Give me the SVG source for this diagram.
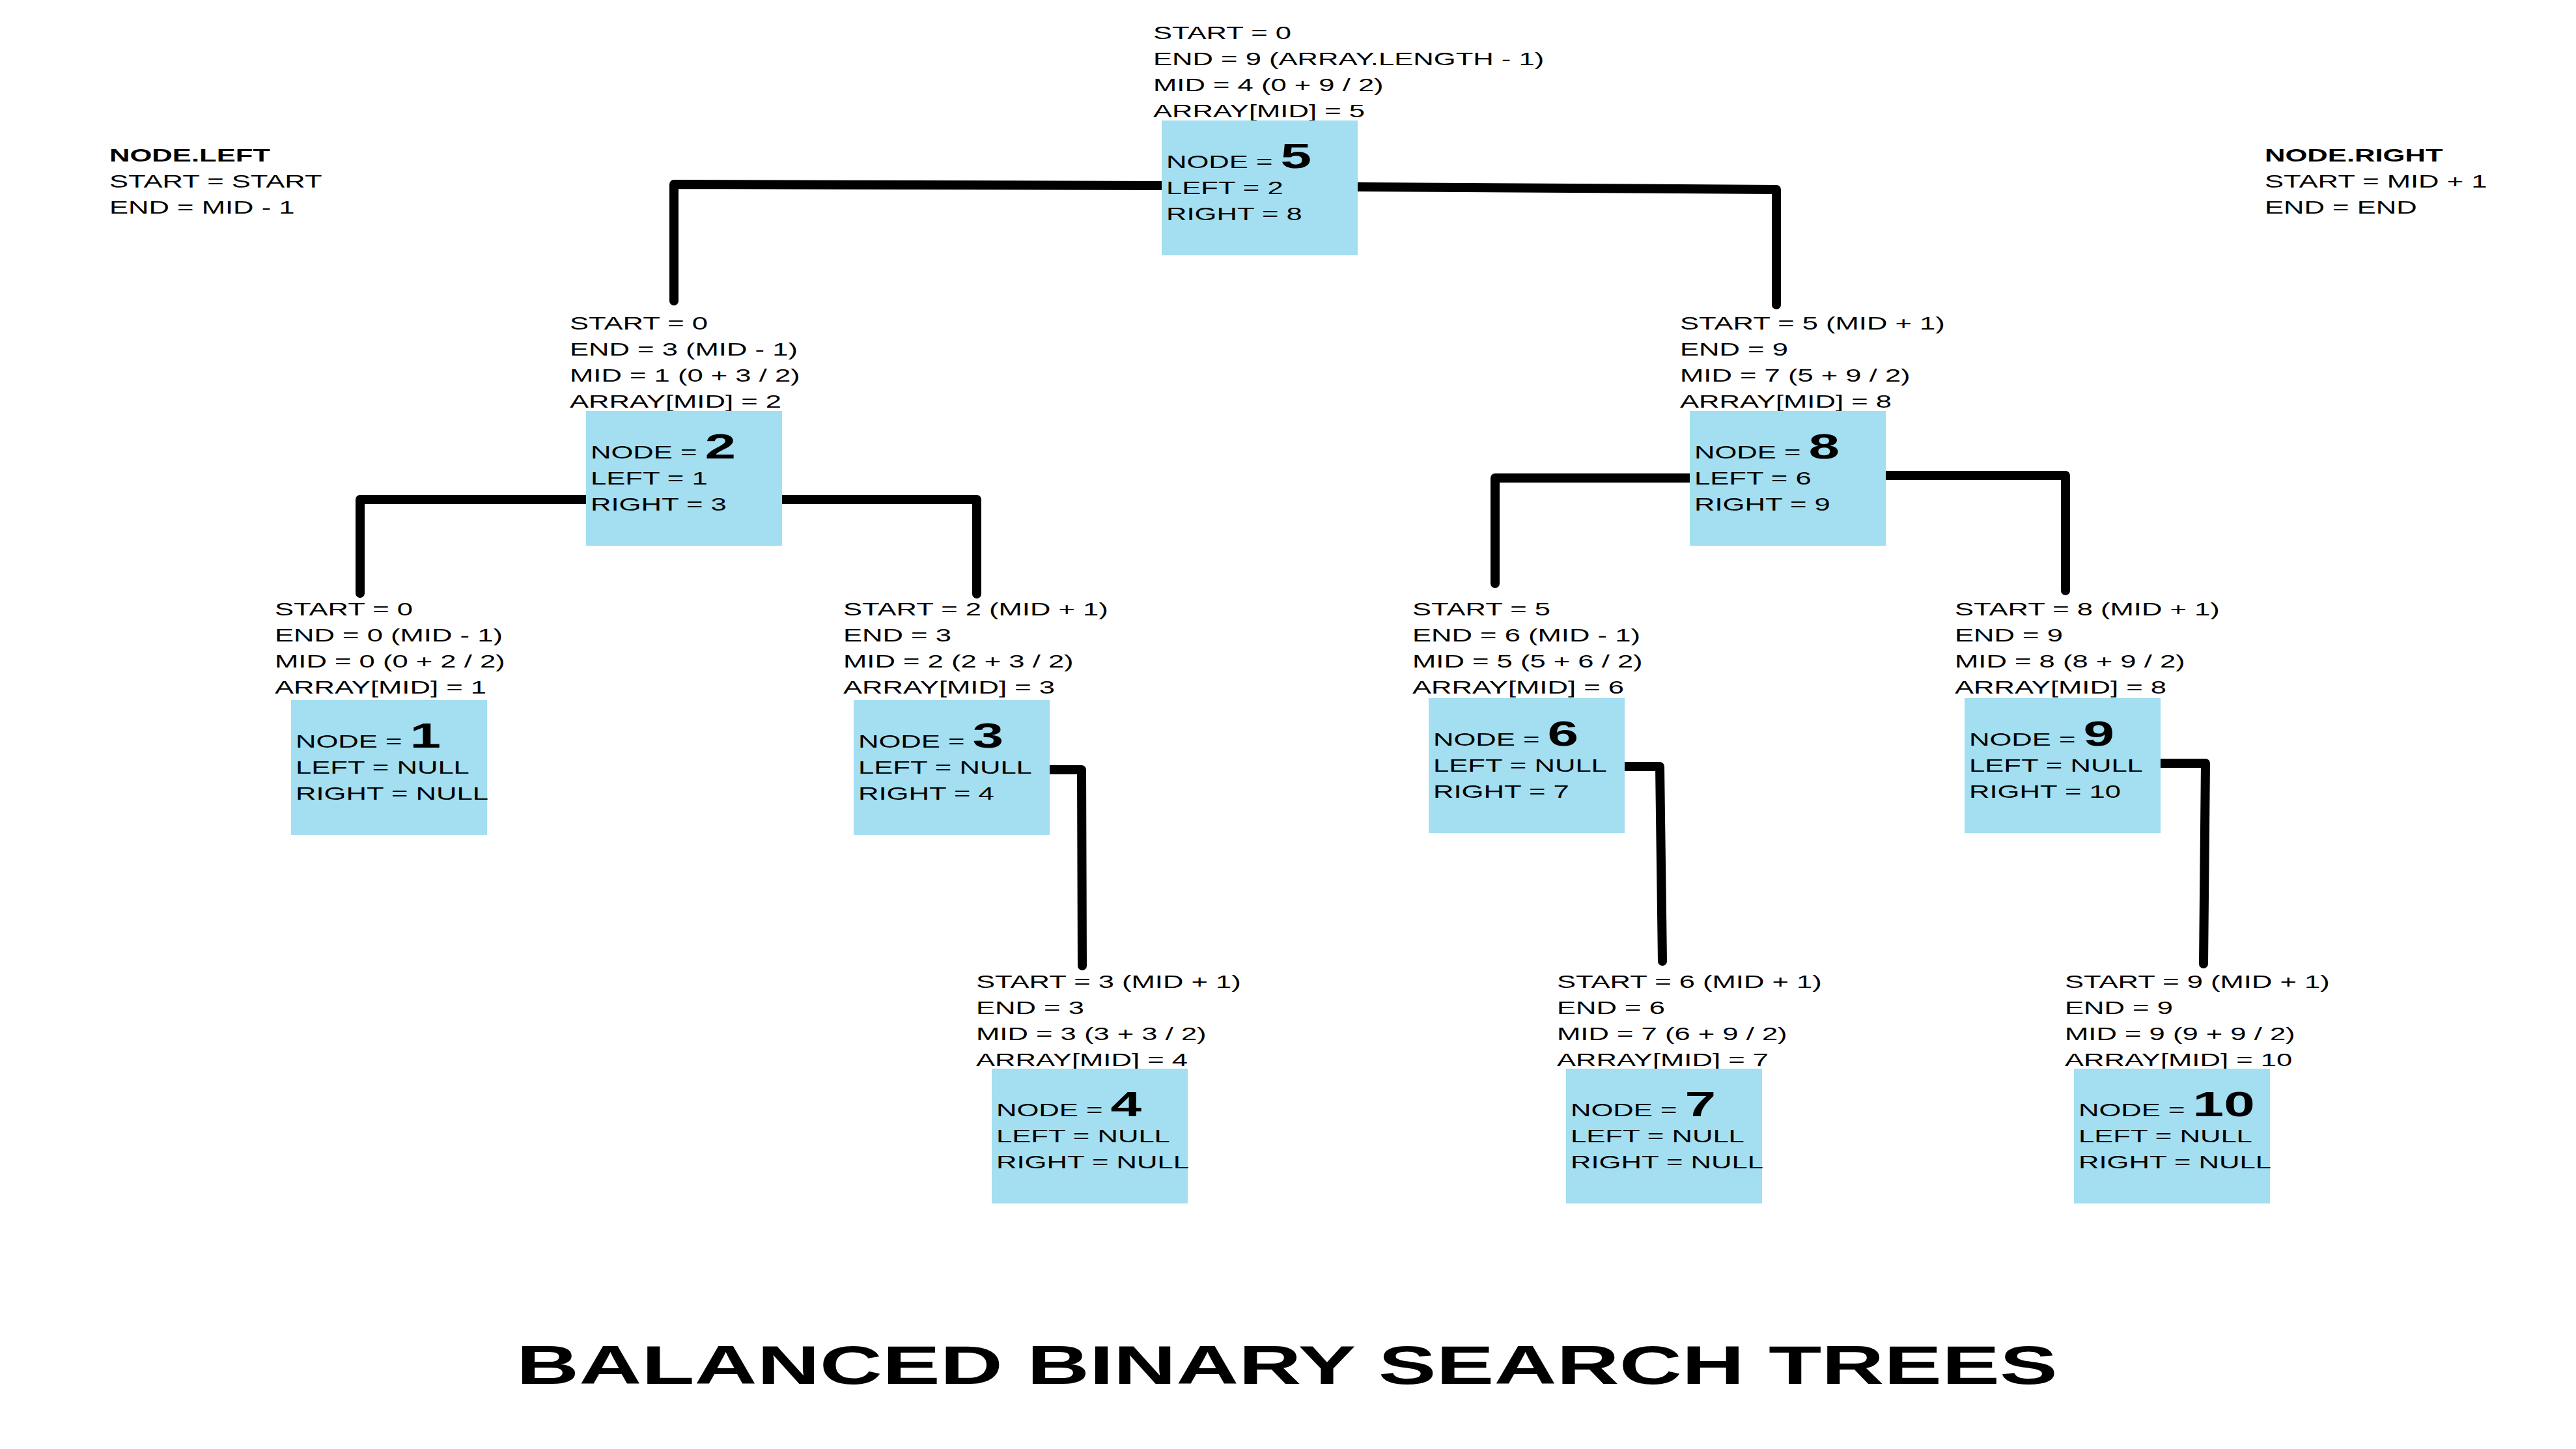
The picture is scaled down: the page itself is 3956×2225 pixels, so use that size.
<svg xmlns="http://www.w3.org/2000/svg" width="3956" height="2225" viewBox="0 0 3956 2225">
<style>
.t{font-family:"Liberation Sans",Arial,Helvetica,sans-serif;font-size:27.5px;fill:#000}
.n{font-size:54px;font-weight:bold}
.b{font-weight:bold}
.box{fill:#A3DEF1}
.title{font-family:"Liberation Sans",Arial,Helvetica,sans-serif;font-size:84px;font-weight:bold;fill:#000}
#connectors path{fill:none;stroke:#000;stroke-width:14;stroke-linecap:round;stroke-linejoin:round}
</style>
<rect width="3956" height="2225" fill="#fff"/>
<g id="connectors">
<path d="M1784,285 L1035,283 L1035,462"/>
<path d="M2085,287 L2728,291 L2728,468"/>
<path d="M900,767 L553,767 L553,911"/>
<path d="M1201,767 L1500,767 L1500,912"/>
<path d="M2595,734 L2296,734 L2296,896"/>
<path d="M2896,730 L3172,730 L3172,907"/>
<path d="M1612,1182 L1661,1182 L1662,1483"/>
<path d="M2495,1177 L2549,1177 L2553,1476"/>
<path d="M3318,1172 L3387,1172 L3384,1480"/>
</g>
<g id="legend-left" transform="translate(168,248) scale(1.585,1)">
<text class="t b">NODE.LEFT</text>
<text class="t" y="40">START = START</text>
<text class="t" y="80">END = MID - 1</text>
</g>
<g id="legend-right" transform="translate(3478,248) scale(1.585,1)">
<text class="t b">NODE.RIGHT</text>
<text class="t" y="40">START = MID + 1</text>
<text class="t" y="80">END = END</text>
</g>
<g id="node5">
<g transform="translate(1771,60) scale(1.585,1)">
<text class="t">START = 0</text>
<text class="t" y="40">END = 9 (ARRAY.LENGTH - 1)</text>
<text class="t" y="80">MID = 4 (0 + 9 / 2)</text>
<text class="t" y="120">ARRAY[MID] = 5</text>
</g>
<rect class="box" x="1784" y="185" width="301" height="207"/>
<g transform="translate(1791,258) scale(1.585,1)">
<text class="t">NODE = <tspan class="n">5</tspan></text>
<text class="t" y="40">LEFT = 2</text>
<text class="t" y="80">RIGHT = 8</text>
</g>
</g>
<g id="node2">
<g transform="translate(875,506) scale(1.585,1)">
<text class="t">START = 0</text>
<text class="t" y="40">END = 3 (MID - 1)</text>
<text class="t" y="80">MID = 1 (0 + 3 / 2)</text>
<text class="t" y="120">ARRAY[MID] = 2</text>
</g>
<rect class="box" x="900" y="631" width="301" height="207"/>
<g transform="translate(907,704) scale(1.585,1)">
<text class="t">NODE = <tspan class="n">2</tspan></text>
<text class="t" y="40">LEFT = 1</text>
<text class="t" y="80">RIGHT = 3</text>
</g>
</g>
<g id="node8">
<g transform="translate(2580,506) scale(1.585,1)">
<text class="t">START = 5 (MID + 1)</text>
<text class="t" y="40">END = 9</text>
<text class="t" y="80">MID = 7 (5 + 9 / 2)</text>
<text class="t" y="120">ARRAY[MID] = 8</text>
</g>
<rect class="box" x="2595" y="631" width="301" height="207"/>
<g transform="translate(2602,704) scale(1.585,1)">
<text class="t">NODE = <tspan class="n">8</tspan></text>
<text class="t" y="40">LEFT = 6</text>
<text class="t" y="80">RIGHT = 9</text>
</g>
</g>
<g id="node1">
<g transform="translate(422,945) scale(1.585,1)">
<text class="t">START = 0</text>
<text class="t" y="40">END = 0 (MID - 1)</text>
<text class="t" y="80">MID = 0 (0 + 2 / 2)</text>
<text class="t" y="120">ARRAY[MID] = 1</text>
</g>
<rect class="box" x="447" y="1075" width="301" height="207"/>
<g transform="translate(454,1148) scale(1.585,1)">
<text class="t">NODE = <tspan class="n">1</tspan></text>
<text class="t" y="40">LEFT = NULL</text>
<text class="t" y="80">RIGHT = NULL</text>
</g>
</g>
<g id="node3">
<g transform="translate(1295,945) scale(1.585,1)">
<text class="t">START = 2 (MID + 1)</text>
<text class="t" y="40">END = 3</text>
<text class="t" y="80">MID = 2 (2 + 3 / 2)</text>
<text class="t" y="120">ARRAY[MID] = 3</text>
</g>
<rect class="box" x="1311" y="1075" width="301" height="207"/>
<g transform="translate(1318,1148) scale(1.585,1)">
<text class="t">NODE = <tspan class="n">3</tspan></text>
<text class="t" y="40">LEFT = NULL</text>
<text class="t" y="80">RIGHT = 4</text>
</g>
</g>
<g id="node6">
<g transform="translate(2169,945) scale(1.585,1)">
<text class="t">START = 5</text>
<text class="t" y="40">END = 6 (MID - 1)</text>
<text class="t" y="80">MID = 5 (5 + 6 / 2)</text>
<text class="t" y="120">ARRAY[MID] = 6</text>
</g>
<rect class="box" x="2194" y="1072" width="301" height="207"/>
<g transform="translate(2201,1145) scale(1.585,1)">
<text class="t">NODE = <tspan class="n">6</tspan></text>
<text class="t" y="40">LEFT = NULL</text>
<text class="t" y="80">RIGHT = 7</text>
</g>
</g>
<g id="node9">
<g transform="translate(3002,945) scale(1.585,1)">
<text class="t">START = 8 (MID + 1)</text>
<text class="t" y="40">END = 9</text>
<text class="t" y="80">MID = 8 (8 + 9 / 2)</text>
<text class="t" y="120">ARRAY[MID] = 8</text>
</g>
<rect class="box" x="3017" y="1072" width="301" height="207"/>
<g transform="translate(3024,1145) scale(1.585,1)">
<text class="t">NODE = <tspan class="n">9</tspan></text>
<text class="t" y="40">LEFT = NULL</text>
<text class="t" y="80">RIGHT = 10</text>
</g>
</g>
<g id="node4">
<g transform="translate(1499,1517) scale(1.585,1)">
<text class="t">START = 3 (MID + 1)</text>
<text class="t" y="40">END = 3</text>
<text class="t" y="80">MID = 3 (3 + 3 / 2)</text>
<text class="t" y="120">ARRAY[MID] = 4</text>
</g>
<rect class="box" x="1523" y="1641" width="301" height="207"/>
<g transform="translate(1530,1714) scale(1.585,1)">
<text class="t">NODE = <tspan class="n">4</tspan></text>
<text class="t" y="40">LEFT = NULL</text>
<text class="t" y="80">RIGHT = NULL</text>
</g>
</g>
<g id="node7">
<g transform="translate(2391,1517) scale(1.585,1)">
<text class="t">START = 6 (MID + 1)</text>
<text class="t" y="40">END = 6</text>
<text class="t" y="80">MID = 7 (6 + 9 / 2)</text>
<text class="t" y="120">ARRAY[MID] = 7</text>
</g>
<rect class="box" x="2405" y="1641" width="301" height="207"/>
<g transform="translate(2412,1714) scale(1.585,1)">
<text class="t">NODE = <tspan class="n">7</tspan></text>
<text class="t" y="40">LEFT = NULL</text>
<text class="t" y="80">RIGHT = NULL</text>
</g>
</g>
<g id="node10">
<g transform="translate(3171,1517) scale(1.585,1)">
<text class="t">START = 9 (MID + 1)</text>
<text class="t" y="40">END = 9</text>
<text class="t" y="80">MID = 9 (9 + 9 / 2)</text>
<text class="t" y="120">ARRAY[MID] = 10</text>
</g>
<rect class="box" x="3185" y="1641" width="301" height="207"/>
<g transform="translate(3192,1714) scale(1.585,1)">
<text class="t">NODE = <tspan class="n">10</tspan></text>
<text class="t" y="40">LEFT = NULL</text>
<text class="t" y="80">RIGHT = NULL</text>
</g>
</g>
<g id="title" transform="translate(793,2125) scale(1.585,1)">
<text class="title">BALANCED BINARY SEARCH TREES</text>
</g>
</svg>
